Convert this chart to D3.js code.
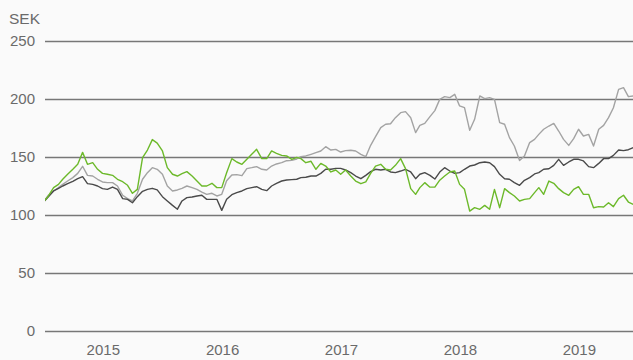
<!DOCTYPE html>
<html>
<head>
<meta charset="utf-8">
<script src="https://cdn.jsdelivr.net/npm/d3@7/dist/d3.min.js"></script>
<style>
  html, body { margin: 0; padding: 0; background: #fafafa; }
  svg { display: block; font-family: "Liberation Sans", Arial, Helvetica, sans-serif; }
</style>
</head>
<body>
<svg id="chart" width="633" height="360"></svg>
<script>
// Share price, SEK, sampled on the 1st and 16th of every month, Jan 2015 – Dec 2019
const startYear = 2015;
const yearLabels = [2015, 2016, 2017, 2018, 2019];
const yTicks = [0, 50, 100, 150, 200, 250];
const unitLabel = "SEK";

// green series
const seriesGreen = [
  111.2, 116.4, 123.6, 126.4, 130.8, 135.1, 139.4, 143.7, 154.0, 143.7,
  145.1, 139.4, 135.9, 135.1, 134.2, 130.8, 128.7, 125.6, 118.7, 122.1,
  149.4, 156.0, 165.0, 162.0, 155.2, 140.8, 135.1, 133.6, 135.6, 137.4,
  133.6, 129.3, 125.0, 125.0, 127.3, 123.6, 123.6, 136.5, 148.6, 145.7,
  143.7, 148.0, 152.3, 156.6, 148.6, 148.6, 155.2, 153.2, 151.4, 150.9,
  148.0, 149.7, 148.6, 145.1, 146.3, 139.4, 144.5, 142.2, 137.1, 138.8,
  135.1, 138.8, 133.6, 129.3, 127.0, 128.5, 135.9, 142.2, 143.7, 139.4,
  138.8, 142.8, 148.6, 140.0, 122.7, 117.8, 123.6, 127.9, 124.0, 124.0,
  130.0, 133.6, 137.1, 137.9, 126.4, 122.1, 103.4, 106.3, 104.9, 108.3,
  104.9, 122.1, 106.3, 122.7, 119.3, 116.4, 112.1, 113.5, 114.1, 119.3,
  123.6, 117.8, 129.3, 127.3, 122.7, 119.3, 117.0, 122.1, 124.4, 117.8,
  117.8, 106.3, 107.2, 106.9, 110.6, 107.2, 114.1, 117.0, 111.2, 109.2
];

// light grey series
const seriesLight = [
  111.2, 117.0, 120.7, 123.6, 126.4, 129.3, 132.2, 135.9, 142.0, 134.2,
  133.6, 130.8, 128.5, 127.9, 127.9, 125.0, 117.0, 114.1, 112.1, 118.7,
  130.8, 136.5, 140.8, 139.4, 135.1, 125.0, 120.7, 121.6, 123.0, 125.0,
  123.6, 122.1, 119.8, 117.8, 118.7, 116.4, 117.8, 129.6, 134.5, 134.8,
  133.9, 140.0, 140.8, 141.7, 139.4, 138.8, 142.2, 144.0, 145.1, 146.8,
  147.1, 148.3, 150.3, 150.9, 152.3, 153.7, 155.2, 158.9, 156.0, 156.6,
  154.3, 155.5, 155.8, 155.2, 152.3, 150.3, 160.1, 167.5, 175.3, 178.2,
  178.7, 183.9, 188.2, 189.1, 183.9, 171.0, 177.3, 179.0, 184.8, 190.0,
  199.7, 202.0, 201.2, 204.0, 194.0, 192.5, 173.0, 182.5, 202.6, 200.3,
  201.2, 199.7, 179.6, 178.2, 166.7, 159.5, 147.0, 150.9, 162.4, 165.2,
  169.5, 173.9, 176.7, 179.0, 172.4, 165.2, 160.0, 165.8, 173.9, 168.1,
  169.5, 159.5, 173.9, 177.3, 183.9, 192.5, 208.3, 209.8, 202.0, 202.6
];

// dark grey series
const seriesDark = [
  111.2, 115.8, 120.7, 123.0, 125.0, 127.0, 129.0, 131.3, 133.0, 127.0,
  126.4, 125.0, 122.7, 122.1, 124.1, 122.1, 114.1, 113.5, 110.6, 115.8,
  120.4, 122.1, 123.0, 121.6, 115.8, 112.1, 108.3, 105.0, 112.1, 115.0,
  115.5, 116.4, 117.0, 113.5, 113.5, 113.5, 104.0, 113.5, 117.5, 119.3,
  120.7, 122.7, 123.6, 124.4, 122.1, 121.0, 125.0, 127.3, 129.3, 130.2,
  130.5, 130.8, 132.2, 132.5, 133.6, 133.6, 135.9, 139.4, 139.4, 140.2,
  140.2, 138.8, 136.5, 133.6, 131.3, 134.2, 137.4, 139.4, 138.8, 139.4,
  137.1, 136.5, 137.9, 139.4, 137.1, 131.3, 135.1, 136.5, 134.2, 131.0,
  137.0, 140.8, 137.9, 135.9, 136.5, 139.4, 142.2, 143.1, 145.1, 145.7,
  145.1, 141.7, 135.1, 131.3, 130.8, 127.9, 125.6, 129.9, 132.2, 135.4,
  136.5, 139.4, 139.9, 142.8, 148.0, 142.8, 145.7, 148.0, 148.0, 146.6,
  141.7, 140.8, 144.5, 148.6, 148.6, 151.4, 156.0, 155.5, 156.3, 158.0
];

// sample dates: 1st and 16th of each month
const dates = seriesGreen.map((_, i) =>
  new Date(startYear + Math.floor(i / 24), Math.floor((i % 24) / 2), i % 2 ? 16 : 1));

const width = 633, height = 360;
const plotLeft = 45, plotRight = 633;

const svg = d3.select("#chart");

const x = d3.scaleTime()
  .domain([new Date(2015, 0, 1), new Date(2020, 0, 1)])
  .range([43.5, 638.5]);

const y = d3.scaleLinear()
  .domain([0, 250])
  .range([331, 41]);

// horizontal gridlines with value labels
const yAxis = svg.append("g")
  .attr("transform", `translate(${plotLeft},0)`)
  .call(d3.axisLeft(y)
    .tickValues(yTicks)
    .tickSize(-(plotRight - plotLeft))
    .tickPadding(10)
    .tickFormat(d3.format("d")));
yAxis.select(".domain").remove();
yAxis.selectAll(".tick line")
  .attr("stroke", "#777")
  .attr("stroke-width", 1.6);
yAxis.selectAll(".tick text")
  .attr("fill", "#6a6a6a")
  .attr("font-size", 15)
  .attr("font-family", "\"Liberation Sans\", Arial, sans-serif");

// unit label
svg.append("text")
  .attr("x", 9)
  .attr("y", 24)
  .attr("fill", "#6a6a6a")
  .attr("font-size", 15.5)
  .text(unitLabel);

// year labels centred in each year
const xAxis = svg.append("g")
  .attr("transform", `translate(0,331)`)
  .call(d3.axisBottom(x)
    .tickValues(yearLabels.map(yr => new Date(yr, 6, 2)))
    .tickSize(0)
    .tickPadding(13)
    .tickFormat(d3.timeFormat("%Y")));
xAxis.select(".domain").remove();
xAxis.selectAll(".tick text")
  .attr("fill", "#6a6a6a")
  .attr("font-size", 15)
  .attr("font-family", "\"Liberation Sans\", Arial, sans-serif");

// clip the price lines to the plot area
svg.append("clipPath").attr("id", "plot-clip")
  .append("rect")
  .attr("x", plotLeft).attr("y", 0)
  .attr("width", plotRight - plotLeft).attr("height", height);

const line = d3.line()
  .x((d, i) => x(dates[i]))
  .y(d => y(d));

const lines = svg.append("g").attr("clip-path", "url(#plot-clip)");

[
  { values: seriesLight, color: "#a3a3a3" },
  { values: seriesDark, color: "#4a4a4a" },
  { values: seriesGreen, color: "#6cb92a" }
].forEach(s => {
  lines.append("path")
    .datum(s.values)
    .attr("fill", "none")
    .attr("stroke", s.color)
    .attr("stroke-width", 1.4)
    .attr("stroke-linejoin", "round")
    .attr("d", line);
});
</script>
</body>
</html>
